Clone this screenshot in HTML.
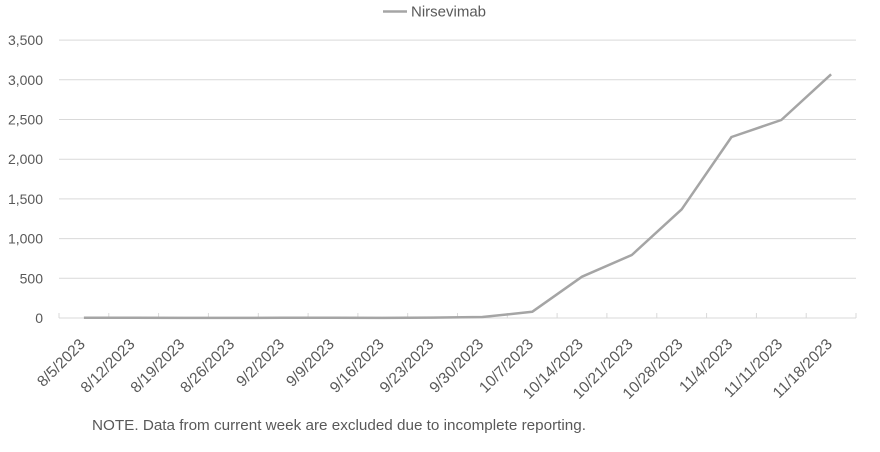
<!DOCTYPE html>
<html>
<head>
<meta charset="utf-8">
<style>
  html, body { margin: 0; padding: 0; background: #ffffff; }
  svg { display: block; }
  text { font-family: "Liberation Sans", Arial, sans-serif; fill: #595959; }
</style>
</head>
<body>
<svg width="880" height="452" viewBox="0 0 880 452" xmlns="http://www.w3.org/2000/svg">
  <!-- legend -->
  <line x1="383" y1="11.5" x2="407" y2="11.5" stroke="#a5a5a5" stroke-width="2.5"/>
  <text x="411" y="16.5" font-size="15">Nirsevimab</text>

  <!-- gridlines -->
  <g stroke="#d9d9d9" stroke-width="1">
    <line x1="59" y1="40.1" x2="856" y2="40.1"/>
    <line x1="59" y1="79.8" x2="856" y2="79.8"/>
    <line x1="59" y1="119.5" x2="856" y2="119.5"/>
    <line x1="59" y1="159.2" x2="856" y2="159.2"/>
    <line x1="59" y1="198.9" x2="856" y2="198.9"/>
    <line x1="59" y1="238.6" x2="856" y2="238.6"/>
    <line x1="59" y1="278.3" x2="856" y2="278.3"/>
    <line x1="59" y1="318" x2="856" y2="318"/>
  </g>
  <!-- ticks -->
  <g stroke="#d9d9d9" stroke-width="1">
    <line x1="59" y1="313" x2="59" y2="318"/>
    <line x1="108.8" y1="313" x2="108.8" y2="318"/>
    <line x1="158.6" y1="313" x2="158.6" y2="318"/>
    <line x1="208.4" y1="313" x2="208.4" y2="318"/>
    <line x1="258.3" y1="313" x2="258.3" y2="318"/>
    <line x1="308.1" y1="313" x2="308.1" y2="318"/>
    <line x1="357.9" y1="313" x2="357.9" y2="318"/>
    <line x1="407.7" y1="313" x2="407.7" y2="318"/>
    <line x1="457.5" y1="313" x2="457.5" y2="318"/>
    <line x1="507.3" y1="313" x2="507.3" y2="318"/>
    <line x1="557.1" y1="313" x2="557.1" y2="318"/>
    <line x1="606.9" y1="313" x2="606.9" y2="318"/>
    <line x1="656.8" y1="313" x2="656.8" y2="318"/>
    <line x1="706.6" y1="313" x2="706.6" y2="318"/>
    <line x1="756.4" y1="313" x2="756.4" y2="318"/>
    <line x1="806.2" y1="313" x2="806.2" y2="318"/>
    <line x1="856" y1="313" x2="856" y2="318"/>
  </g>

  <!-- y labels -->
  <g font-size="14" text-anchor="end">
    <text x="43" y="45.1">3,500</text>
    <text x="43" y="84.8">3,000</text>
    <text x="43" y="124.5">2,500</text>
    <text x="43" y="164.2">2,000</text>
    <text x="43" y="203.9">1,500</text>
    <text x="43" y="243.6">1,000</text>
    <text x="43" y="283.3">500</text>
    <text x="43" y="323">0</text>
  </g>

  <!-- series -->
  <polyline fill="none" stroke="#a5a5a5" stroke-width="2.5" stroke-linejoin="round"
    points="83.9,317.8 133.7,317.8 183.5,317.9 233.3,317.9 283.2,317.8 333.0,317.8 382.8,317.9 432.6,317.6 482.4,317.0 532.2,311.8 582.0,276.7 631.8,255.0 681.7,209.3 731.5,137.0 781.3,120.0 831.1,74.3"/>

  <!-- x labels -->
  <g font-size="15.5" text-anchor="end">
    <text transform="translate(86,345) rotate(-45)">8/5/2023</text>
    <text transform="translate(135.7,345) rotate(-45)">8/12/2023</text>
    <text transform="translate(185.5,345) rotate(-45)">8/19/2023</text>
    <text transform="translate(235.3,345) rotate(-45)">8/26/2023</text>
    <text transform="translate(285.2,345) rotate(-45)">9/2/2023</text>
    <text transform="translate(335,345) rotate(-45)">9/9/2023</text>
    <text transform="translate(384.8,345) rotate(-45)">9/16/2023</text>
    <text transform="translate(434.6,345) rotate(-45)">9/23/2023</text>
    <text transform="translate(484.4,345) rotate(-45)">9/30/2023</text>
    <text transform="translate(534.2,345) rotate(-45)">10/7/2023</text>
    <text transform="translate(584,345) rotate(-45)">10/14/2023</text>
    <text transform="translate(633.8,345) rotate(-45)">10/21/2023</text>
    <text transform="translate(683.7,345) rotate(-45)">10/28/2023</text>
    <text transform="translate(733.5,345) rotate(-45)">11/4/2023</text>
    <text transform="translate(783.3,345) rotate(-45)">11/11/2023</text>
    <text transform="translate(833.1,345) rotate(-45)">11/18/2023</text>
  </g>

  <!-- note -->
  <text x="92" y="430" font-size="15" textLength="494" lengthAdjust="spacingAndGlyphs">NOTE. Data from current week are excluded due to incomplete reporting.</text>
</svg>
</body>
</html>
